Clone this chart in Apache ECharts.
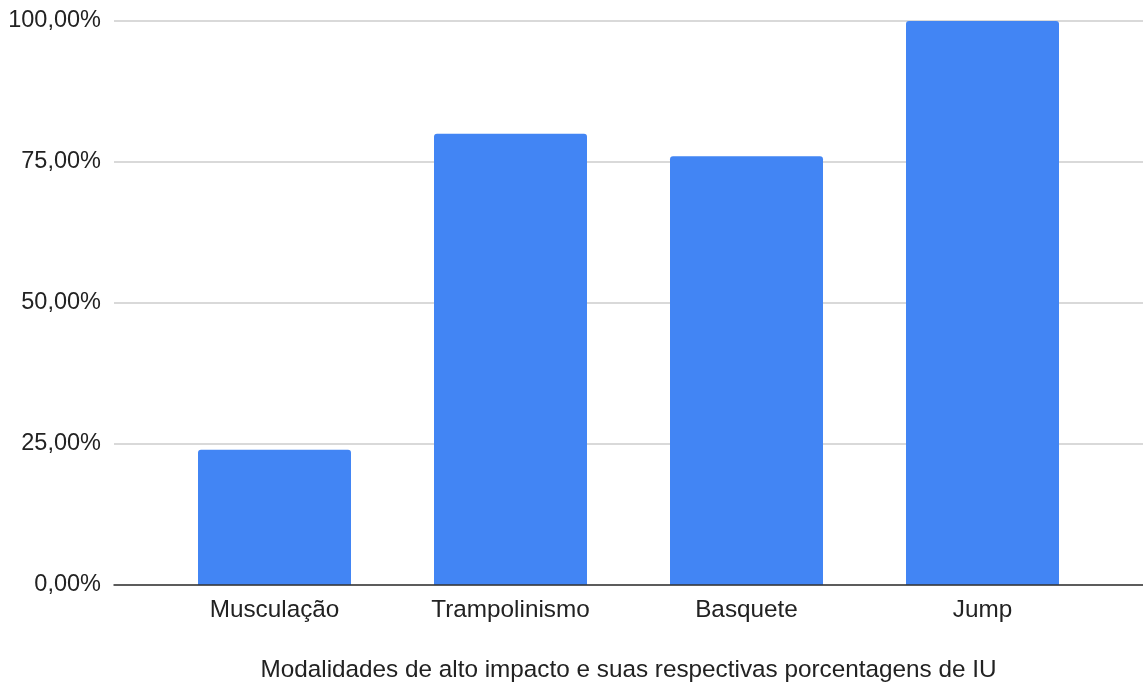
<!DOCTYPE html>
<html>
<head>
<meta charset="utf-8">
<script src="https://cdn.jsdelivr.net/npm/echarts@6/dist/echarts.min.js"></script>
<style>
  html, body { margin: 0; padding: 0; background: #fff; }
  #chart { width: 1143px; height: 684px; }
</style>
</head>
<body>
<div id="chart"></div>
<script>
// Modalidades e porcentagens de IU
const categories = ['Musculação', 'Trampolinismo', 'Basquete', 'Jump'];
const values = [24, 80, 76, 100];
const yTicks = [0, 25, 50, 75, 100];
const axisTitle = 'Modalidades de alto impacto e suas respectivas porcentagens de IU';

const FONT = '"Liberation Sans", Arial, sans-serif';
const FS_Y = 23.5;
const FS_X = 24.3;
const fmtPct = v => v.toFixed(2).replace('.', ',') + '%';

const chart = echarts.init(document.getElementById('chart'));
chart.setOption({
  animation: false,
  backgroundColor: '#ffffff',
  grid: [
    // full-width grid carries the gridlines, baseline and value labels
    { left: 114, right: 0, top: 21, bottom: 99, outerBoundsMode: 'none', containLabel: false },
    // inner grid holds the bars
    { left: 156.5, right: 42.5, top: 21, bottom: 99, outerBoundsMode: 'none', containLabel: false }
  ],
  xAxis: [
    {
      gridIndex: 0, type: 'value', min: 0, max: 1, z: 5,
      axisLine: { show: true, onZero: false, lineStyle: { color: '#333333', width: 1.5 } },
      axisTick: { show: false }, axisLabel: { show: false }, splitLine: { show: false }
    },
    {
      gridIndex: 1, type: 'category', data: categories,
      axisLine: { show: false }, axisTick: { show: false },
      axisLabel: { color: '#222222', fontFamily: FONT, fontSize: FS_X, margin: 13 },
      name: axisTitle, nameLocation: 'middle', nameGap: 73,
      nameTextStyle: { color: '#222222', fontFamily: FONT, fontSize: FS_X }
    }
  ],
  yAxis: [
    {
      gridIndex: 0, type: 'value', min: yTicks[0], max: yTicks[yTicks.length - 1], interval: 25,
      axisLine: { show: false }, axisTick: { show: false },
      axisLabel: { color: '#222222', fontFamily: FONT, fontSize: FS_Y, margin: 13,
                   padding: [7, 0, 0, 0], formatter: fmtPct },
      splitLine: { lineStyle: { color: '#cccccc', width: 1.5 } }
    },
    {
      gridIndex: 1, type: 'value', min: 0, max: 100, show: false
    }
  ],
  series: [{
    type: 'bar',
    xAxisIndex: 1, yAxisIndex: 1,
    data: values,
    barWidth: 153,
    itemStyle: { color: '#4285f4', borderRadius: [3, 3, 0, 0] }
  }]
});
</script>
</body>
</html>
